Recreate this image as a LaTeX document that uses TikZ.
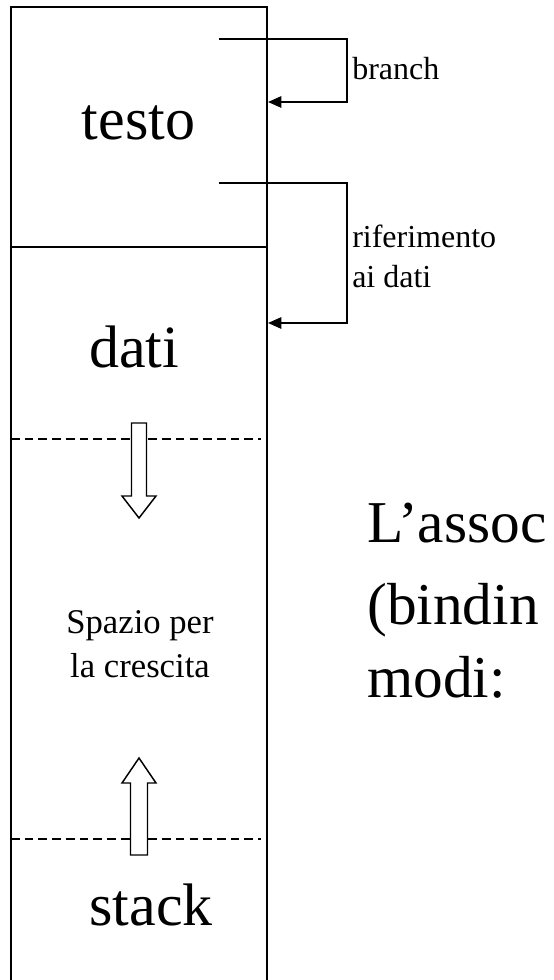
\documentclass[tikz,border=0pt]{standalone}
\usepackage{fontspec}
\setmainfont{Liberation Serif}
\usetikzlibrary{arrows.meta}
\tikzset{
  px/.style={x=0.75pt,y=-0.75pt},
  wall/.style={line width=1.4pt},
  sepline/.style={line width=1.4pt},
  dashline/.style={line width=1.1pt,dash pattern=on 6.5pt off 3.8pt},
  jump/.style={line width=1.4pt,-{Triangle[length=10pt,width=8.5pt]}},
  hollow/.style={line width=1.1pt,fill=white},
  bigtxt/.style={inner sep=0pt,anchor=base,font=\fontsize{45}{54}\selectfont},
  midtxt/.style={inner sep=0pt,anchor=base,font=\fontsize{26}{31}\selectfont},
  smalltxt/.style={inner sep=0pt,anchor=base west,font=\fontsize{24}{29}\selectfont},
  sidetxt/.style={inner sep=0pt,anchor=base west,font=\fontsize{44.5}{53}\selectfont}
}
\begin{document}
\begin{tikzpicture}[px]
\useasboundingbox (0,0) rectangle (553,980);
% memory column
\coordinate (bl) at (11,981);
\coordinate (tl) at (11,7);
\coordinate (tr) at (267,7);
\coordinate (br) at (267,981);
\draw[wall] (bl) -- (tl) -- (tr) -- (br);
% separators
\coordinate (s1l) at (11,247);
\coordinate (s1r) at (267,247);
\draw[sepline] (s1l) -- (s1r);
\coordinate (d1l) at (11,439);
\coordinate (d1r) at (261,439);
\draw[dashline] (d1l) -- (d1r);
\coordinate (d2l) at (11,839);
\coordinate (d2r) at (261,839);
\draw[dashline] (d2l) -- (d2r);
% segment labels
\node[bigtxt] (testo) at (138.5,140) {testo};
\node[bigtxt] (dati) at (134,367) {dati};
\node[bigtxt] (stack) at (151,925) {stack};
\node[midtxt] (sp1) at (140,633) {Spazio per};
\node[midtxt] (sp2) at (140,677) {la crescita};
% hollow growth arrows
\draw[hollow] (131.5,423) -- (146.5,423) -- (146.5,496) -- (156,496) -- (139,518) -- (122,496) -- (131.5,496) -- cycle;
\draw[hollow] (130.5,855) -- (147.5,855) -- (147.5,783) -- (156,783) -- (139,758) -- (122,783) -- (130.5,783) -- cycle;
% jump connectors
\coordinate (j1s) at (219,39);
\coordinate (j1c) at (347,39);
\coordinate (j1e) at (268,102);
\draw[jump] (j1s) -- (j1c) |- (j1e);
\coordinate (j2s) at (219,183);
\coordinate (j2c) at (347,183);
\coordinate (j2e) at (268,323);
\draw[jump] (j2s) -- (j2c) |- (j2e);
\node[smalltxt] (branch) at (352,80) {branch};
\node[smalltxt] (rif1) at (352,248) {riferimento};
\node[smalltxt] (rif2) at (352,287) {ai dati};
% side text (as visible in the reference)
\node[sidetxt] (l1) at (367,542) {L’assoc};
\node[sidetxt] (l2) at (367,624) {(bindin};
\node[sidetxt] (l3) at (367,697) {modi:};
\end{tikzpicture}
\end{document}
